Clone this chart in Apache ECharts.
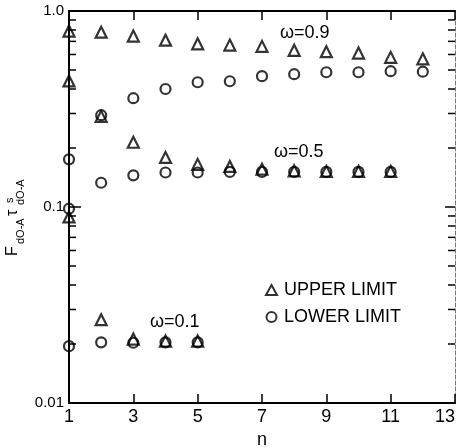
<!DOCTYPE html>
<html>
<head>
<meta charset="utf-8">
<script src="https://cdn.jsdelivr.net/npm/echarts@6/dist/echarts.min.js"></script>
<style>
html,body{margin:0;padding:0;background:#fff;}
#chart{width:456px;height:448px;}
</style>
</head>
<body>
<div id="chart"></div>
<script>
// ---- data ----
const n09 = [1, 2, 3, 4, 5, 6, 7, 8, 9, 10, 11, 12];
const upper09 = [0.79, 0.78, 0.745, 0.71, 0.68, 0.67, 0.66, 0.63, 0.62, 0.61, 0.58, 0.57];
const lower09 = [0.175, 0.294, 0.359, 0.40, 0.433, 0.438, 0.465, 0.476, 0.487, 0.487, 0.493, 0.49];

const n05 = [1, 2, 3, 4, 5, 6, 7, 8, 9, 10, 11];
const upper05 = [0.44, 0.29, 0.214, 0.179, 0.165, 0.161, 0.156, 0.153, 0.152, 0.152, 0.152];
const lower05 = [0.098, 0.133, 0.145, 0.150, 0.150, 0.151, 0.151, 0.151, 0.151, 0.151, 0.151];

const n01 = [1, 2, 3, 4, 5];
const upper01 = [0.089, 0.0266, 0.0212, 0.0207, 0.0207];
const lower01 = [0.0195, 0.0204, 0.0203, 0.0204, 0.0204];

const xTicks = [1, 3, 5, 7, 9, 11, 13];
const yMinorTicks = [0.02, 0.03, 0.04, 0.05, 0.06, 0.07, 0.08, 0.09,
                     0.2, 0.3, 0.4, 0.5, 0.6, 0.7, 0.8, 0.9];
const curveLabels = ['ω=0.9', 'ω=0.5', 'ω=0.1'];
const legendNames = ['UPPER LIMIT', 'LOWER LIMIT'];

const FONT = 'Liberation Sans';
const chart = echarts.init(document.getElementById('chart'), null, {renderer: 'canvas'});

function pairs(xs, ys) { return xs.map((x, i) => [x, ys[i]]); }
const open = {color: 'rgba(0,0,0,0)', borderColor: '#000', borderWidth: 2.2};

function sc(name, xs, ys, sym, size) {
  return {
    type: 'scatter', name: name, data: pairs(xs, ys),
    symbol: sym, symbolSize: size, itemStyle: open,
    xAxisIndex: 0, yAxisIndex: 0, silent: true, z: 3
  };
}

const option = {
  animation: false,
  backgroundColor: '#fff',
  grid: {left: 69, right: 1, top: 11, bottom: 45, containLabel: false, outerBoundsMode: 'none'},
  legend: {
    data: legendNames, orient: 'vertical', left: 260, top: 276,
    itemWidth: 11, itemHeight: 10, itemGap: 9,
    textStyle: {fontFamily: FONT, fontSize: 18, color: '#000', padding: [0, 0, 0, 2]},
    selectedMode: false
  },
  xAxis: [{
    type: 'value', min: 1, max: 13, interval: 2,
    name: 'n', nameLocation: 'middle', nameGap: 27,
    nameTextStyle: {fontFamily: FONT, fontSize: 18, color: '#000'},
    axisLine: {show: true, onZero: false, lineStyle: {color: '#000', width: 2}},
    axisTick: {show: true, inside: true, length: 9, lineStyle: {color: '#000', width: 1.5}},
    axisLabel: {fontFamily: FONT, fontSize: 18, color: '#000', margin: 5,
      alignMaxLabel: 'right', showMaxLabel: true,
      formatter: v => xTicks.indexOf(v) >= 0 ? String(v) : ''},
    splitLine: {show: false}
  }, {
    type: 'value', min: 1, max: 13, interval: 2, position: 'top',
    axisLine: {show: true, onZero: false, lineStyle: {color: '#000', width: 2}},
    axisTick: {show: true, inside: true, length: 9, lineStyle: {color: '#000', width: 1.5}},
    axisLabel: {show: false}, splitLine: {show: false}
  }],
  yAxis: [{
    type: 'log', logBase: 10, min: 0.01, max: 1,
    axisLine: {show: true, onZero: false, lineStyle: {color: '#000', width: 2}},
    axisTick: {show: true, inside: true, length: 12, lineStyle: {color: '#000', width: 1.5}},
    axisLabel: {fontFamily: FONT, fontSize: 15, color: '#000', margin: 5,
      formatter: v => v > 0.5 ? '1.0' : (v > 0.05 ? '0.1' : '0.01')},
    splitLine: {show: false}
  }, {
    type: 'log', logBase: 10, min: 0.01, max: 1, position: 'right',
    axisLine: {show: true, onZero: false, lineStyle: {color: '#777', width: 1, type: 'dashed'}},
    axisTick: {show: true, inside: true, length: 10, lineStyle: {color: '#000', width: 1.5}},
    axisLabel: {show: false}, splitLine: {show: false}
  }],
  series: [
    sc('UPPER LIMIT', n09, upper09, 'triangle', 11),
    sc('LOWER LIMIT', n09, lower09, 'circle', 10),
    sc('UPPER LIMIT', n05, upper05, 'triangle', 11),
    sc('LOWER LIMIT', n05, lower05, 'circle', 10),
    sc('UPPER LIMIT', n01, upper01, 'triangle', 11),
    sc('LOWER LIMIT', n01, lower01, 'circle', 10),
    {
      type: 'custom', name: 'minorTicks', silent: true, clip: false, z: 5,
      data: yMinorTicks.map(v => [7, v]),
      encode: {x: 0, y: 1},
      renderItem: function (params, api) {
        const v = api.value(1);
        const pL = api.coord([1, v]);
        const pR = api.coord([13, v]);
        return {
          type: 'group',
          children: [
            {type: 'line', shape: {x1: pL[0], y1: pL[1], x2: pL[0] + 7, y2: pL[1]},
             style: {stroke: '#000', lineWidth: 1.5}},
            {type: 'line', shape: {x1: pR[0] - 7, y1: pR[1], x2: pR[0], y2: pR[1]},
             style: {stroke: '#000', lineWidth: 1.5}}
          ]
        };
      }
    }
  ],
  graphic: [
    {type: 'text', left: 280, top: 24, style: {text: curveLabels[0], font: '18px ' + FONT, fill: '#000'}},
    {type: 'text', left: 274, top: 143, style: {text: curveLabels[1], font: '18px ' + FONT, fill: '#000'}},
    {type: 'text', left: 150, top: 313, style: {text: curveLabels[2], font: '18px ' + FONT, fill: '#000'}},
    {
      type: 'group', x: 21, y: 258, rotation: Math.PI / 2,
      children: [
        {type: 'text', x: 2, y: 0, style: {text: 'F', font: '16px ' + FONT, fill: '#000', textVerticalAlign: 'bottom'}},
        {type: 'text', x: 14, y: 5, style: {text: 'dO-A', font: '11px ' + FONT, fill: '#000', textVerticalAlign: 'bottom'}},
        {type: 'text', x: 42, y: 0, style: {text: 'τ', font: '16px ' + FONT, fill: '#000', textVerticalAlign: 'bottom'}},
        {type: 'text', x: 55, y: -6, style: {text: 's', font: '11px ' + FONT, fill: '#000', textVerticalAlign: 'bottom'}},
        {type: 'text', x: 53, y: 5, style: {text: 'dO-A', font: '11px ' + FONT, fill: '#000', textVerticalAlign: 'bottom'}}
      ]
    }
  ]
};
chart.setOption(option);
</script>
</body>
</html>
